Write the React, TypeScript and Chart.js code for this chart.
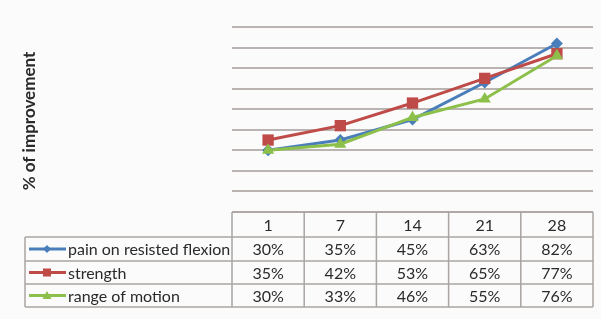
import React, { useEffect, useRef } from "react";
import { Chart, registerables } from "chart.js";

Chart.register(...registerables);

const categories = ["1", "7", "14", "21", "28"];
const painValues = [30, 35, 45, 63, 82];
const strengthValues = [35, 42, 53, 65, 77];
const motionValues = [30, 33, 46, 55, 76];
const seriesNames = ["pain on resisted flexion", "strength", "range of motion"];
const yTitle = "% of improvement";

const COLORS = ["#4A7EBB", "#BE4B48", "#8DC04A"];
const STYLES = ["rectRot", "rect", "triangle"];
const RADII = [6, 8, 7];
const FONT = "Lato, 'Open Sans', sans-serif";
const GRID = "#b9b4b1";
const BORDER = "#aaa5a2";

const tablePlugin = {
  id: "dataTable",
  afterDraw(chart: any) {
    const ctx = chart.ctx;
    const x = chart.scales.x;
    const area = chart.chartArea;
    const n = categories.length;
    const step = x.getPixelForValue(1) - x.getPixelForValue(0);
    const colLeft = x.getPixelForValue(0) - step / 2;
    const colRight = x.getPixelForValue(n - 1) + step / 2;
    const tableLeft = 25;
    const rows = [area.bottom, 237, 261, 284, 307];
    const data = [painValues, strengthValues, motionValues];

    ctx.save();
    ctx.strokeStyle = BORDER;
    ctx.lineWidth = 1.5;
    ctx.beginPath();
    ctx.moveTo(colLeft, rows[0]);
    ctx.lineTo(colRight, rows[0]);
    for (let r = 1; r < rows.length; r++) {
      ctx.moveTo(tableLeft, rows[r]);
      ctx.lineTo(colRight, rows[r]);
    }
    ctx.moveTo(tableLeft, rows[1]);
    ctx.lineTo(tableLeft, rows[4]);
    for (let i = 0; i <= n; i++) {
      const px = colLeft + i * step;
      ctx.moveTo(px, rows[0]);
      ctx.lineTo(px, rows[4]);
    }
    ctx.stroke();

    ctx.fillStyle = "#2a2a2a";
    ctx.font = `16px ${FONT}`;
    ctx.textAlign = "center";
    ctx.textBaseline = "middle";
    for (let i = 0; i < n; i++) {
      const cx = x.getPixelForValue(i);
      ctx.fillText(categories[i], cx, (rows[0] + rows[1]) / 2 + 1);
      for (let s = 0; s < 3; s++) {
        ctx.fillText(`${data[s][i]}%`, cx, (rows[s + 1] + rows[s + 2]) / 2 + 1);
      }
    }
    for (let s = 0; s < 3; s++) {
      const cy = (rows[s + 1] + rows[s + 2]) / 2;
      ctx.strokeStyle = COLORS[s];
      ctx.lineWidth = 3;
      ctx.beginPath();
      ctx.moveTo(29, cy);
      ctx.lineTo(66, cy);
      ctx.stroke();
      ctx.fillStyle = COLORS[s];
      ctx.beginPath();
      if (s === 0) {
        ctx.moveTo(47, cy - 4);
        ctx.lineTo(51, cy);
        ctx.lineTo(47, cy + 4);
        ctx.lineTo(43, cy);
      } else if (s === 1) {
        ctx.rect(43, cy - 4, 8, 8);
      } else {
        ctx.moveTo(47, cy - 4.5);
        ctx.lineTo(51.5, cy + 3.5);
        ctx.lineTo(42.5, cy + 3.5);
      }
      ctx.closePath();
      ctx.fill();
      ctx.fillStyle = "#2a2a2a";
      ctx.textAlign = "left";
      ctx.fillText(seriesNames[s], 68, cy + 1);
    }
    ctx.save();
    ctx.translate(30, 121);
    ctx.rotate(-Math.PI / 2);
    ctx.font = `bold 17px ${FONT}`;
    ctx.textAlign = "center";
    ctx.textBaseline = "middle";
    ctx.fillStyle = "#2a2a2a";
    ctx.fillText(yTitle, 0, 0);
    ctx.restore();
    ctx.restore();
  },
};

export default function App() {
  const ref = useRef<HTMLCanvasElement>(null);
  useEffect(() => {
    document.body.style.margin = "0";
    document.body.style.background = "#fbfbfb";
    const series = [painValues, strengthValues, motionValues];
    const chart = new Chart(ref.current!, {
      type: "line",
      data: {
        labels: categories,
        datasets: series.map((vals, i) => ({
          label: seriesNames[i],
          data: vals,
          borderColor: COLORS[i],
          backgroundColor: COLORS[i],
          borderWidth: 3,
          pointStyle: STYLES[i] as any,
          pointRadius: RADII[i],
          pointBorderWidth: 0,
          tension: 0,
          order: 3 - i,
        })),
      },
      options: {
        animation: false,
        responsive: false,
        maintainAspectRatio: false,
        layout: { padding: { left: 232, top: 27, right: 2, bottom: 107 } },
        plugins: { legend: { display: false }, tooltip: { enabled: false } },
        scales: {
          x: { type: "category", offset: true, display: false },
          y: {
            min: 0,
            max: 90,
            ticks: { display: false, stepSize: 10 },
            grid: { color: GRID, lineWidth: 2, drawTicks: false, tickLength: 0 },
            border: { display: false },
          },
        },
      },
      plugins: [tablePlugin],
    });
    return () => chart.destroy();
  }, []);
  return (
    <div style={{ position: "absolute", left: 0, top: 0, width: 601, height: 319 }}>
      <canvas ref={ref} width={601} height={319} />
    </div>
  );
}
